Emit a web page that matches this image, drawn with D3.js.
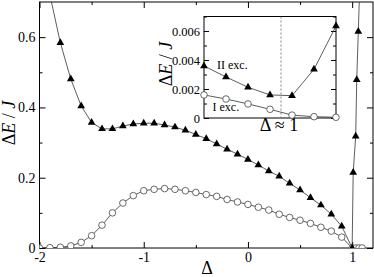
<!DOCTYPE html>
<html>
<head>
<meta charset="utf-8">
<script src="https://cdn.jsdelivr.net/npm/d3@7"></script>
<style>
body { margin: 0; background: #fff; }
svg text { font-family: "Liberation Serif", "Times New Roman", "DejaVu Serif", serif !important; fill: #000; }
</style>
</head>
<body>
<div id="chart"></div>
<script>
// main panel: I exc. (open circles) and II exc. (filled triangles)
var circleDelta = [-2, -1.9, -1.8, -1.7, -1.6, -1.5, -1.4, -1.3, -1.2, -1.1, -1.0, -0.9, -0.8, -0.7, -0.6, -0.5,
    -0.4, -0.3, -0.2, -0.1, 0, 0.1, 0.2, 0.3, 0.4, 0.5, 0.6, 0.7, 0.8, 0.9, 1.0, 1.035, 1.065, 1.095];
var circleGap = [0, 0.001, 0.002, 0.006, 0.016, 0.035, 0.065, 0.100, 0.128, 0.149, 0.163, 0.167, 0.169, 0.167, 0.163, 0.158,
    0.152, 0.147, 0.138, 0.131, 0.124, 0.116, 0.108, 0.096, 0.087, 0.079, 0.070, 0.059, 0.048, 0.031, 0, 0, 0, 0];

var triDelta = [-1.9, -1.8, -1.7, -1.6, -1.5, -1.4, -1.3, -1.2, -1.1, -1.0, -0.9, -0.8, -0.7, -0.6, -0.5, -0.4,
    -0.3, -0.2, -0.1, 0, 0.1, 0.2, 0.3, 0.4, 0.5, 0.6, 0.7, 0.8, 0.9, 1.0, 1.01, 1.034, 1.044, 1.059, 1.075];
var triGap = [0.72, 0.584, 0.481, 0.404, 0.357, 0.339, 0.339, 0.347, 0.353, 0.355, 0.355, 0.350, 0.344, 0.335, 0.323, 0.311,
    0.296, 0.281, 0.267, 0.252, 0.236, 0.219, 0.204, 0.184, 0.165, 0.143, 0.122, 0.096, 0.062, 0, 0.215, 0.318, 0.479, 0.616, 0.76];

var xTicks = [-2, -1, 0, 1];
var xMinor = [-1.5, -0.5, 0.5];
var yTicks = [0, 0.2, 0.4, 0.6];
var yMinor = [0.1, 0.3, 0.5];

// inset: seven points around Delta ~ 1
var insetStep = [1, 2, 3, 4, 5, 6, 7];
var insetII = [0.00359, 0.00283, 0.00212, 0.00159, 0.00154, 0.00336, 0.00634];
var insetI = [0.00159, 0.00131, 0.00097, 0.00060, 0.00020, 0.00009, 0.00005];
var insetYTicks = [0, 0.002, 0.004, 0.006];
var insetYMinor = [0.001, 0.003, 0.005, 0.007];
var insetMark = 4.5;

var serif = "Liberation Serif, Times New Roman, serif";

var svgWidth = 374;
var svgHeight = 277;

var svg = d3.select("#chart")
    .append("svg")
    .attr("width", svgWidth)
    .attr("height", svgHeight)
    .attr("font-family", serif);

var x = d3.scaleLinear().domain([-2, 1.2]).range([39.5, 373]);
var y = d3.scaleLinear().domain([0, 0.7]).range([248, 2]);

var lineColor = "#333";

// frame
svg.append("rect")
    .attr("x", x.range()[0]).attr("y", y.range()[1])
    .attr("width", x.range()[1] - x.range()[0])
    .attr("height", y.range()[0] - y.range()[1])
    .attr("fill", "none").attr("stroke", "#000").attr("stroke-width", 1);

// axes, ticks pointing inward
function dressAxis(g) {
    g.attr("font-family", serif);
    g.select(".domain").remove();
    g.selectAll("line").attr("stroke", "#000");
}
svg.append("g").attr("transform", "translate(0,248)")
    .call(d3.axisBottom(x).tickValues(xTicks).tickSize(-6).tickPadding(4).tickFormat(d => String(d)))
    .call(dressAxis)
    .selectAll("text").style("font-size", "14px");
svg.append("g").attr("transform", "translate(0,248)")
    .call(d3.axisBottom(x).tickValues(xMinor).tickSize(-3).tickFormat(""))
    .call(dressAxis);
svg.append("g").attr("transform", "translate(0,2)")
    .call(d3.axisTop(x).tickValues(xTicks).tickSize(-6).tickFormat(""))
    .call(dressAxis);
svg.append("g").attr("transform", "translate(0,2)")
    .call(d3.axisTop(x).tickValues(xMinor).tickSize(-3).tickFormat(""))
    .call(dressAxis);

svg.append("g").attr("transform", "translate(39.5,0)")
    .call(d3.axisLeft(y).tickValues(yTicks).tickSize(-6).tickPadding(4).tickFormat(function(d) { return d === 0 ? "0" : d3.format(".1f")(d); }))
    .call(dressAxis)
    .selectAll("text").style("font-size", "14px");
svg.append("g").attr("transform", "translate(39.5,0)")
    .call(d3.axisLeft(y).tickValues(yMinor).tickSize(-3).tickFormat(""))
    .call(dressAxis);
svg.append("g").attr("transform", "translate(373,0)")
    .call(d3.axisRight(y).tickValues(yTicks).tickSize(-6).tickFormat(""))
    .call(dressAxis);
svg.append("g").attr("transform", "translate(373,0)")
    .call(d3.axisRight(y).tickValues(yMinor).tickSize(-3).tickFormat(""))
    .call(dressAxis);

// clip the curves to the plot box
svg.append("clipPath").attr("id", "plotClip")
    .append("rect")
    .attr("x", 39.5).attr("y", 2).attr("width", 333.5).attr("height", 246);

var plot = svg.append("g").attr("clip-path", "url(#plotClip)");

var circleData = circleDelta.map(function(d, i) { return [d, circleGap[i]]; });
var triData = triDelta.map(function(d, i) { return [d, triGap[i]]; });

var line = d3.line().x(d => x(d[0])).y(d => y(d[1]));

plot.append("path").datum(circleData)
    .attr("d", line).attr("fill", "none").attr("stroke", lineColor).attr("stroke-width", 0.8);
plot.append("path").datum(triData)
    .attr("d", line).attr("fill", "none").attr("stroke", lineColor).attr("stroke-width", 0.8);

var tri = d3.symbol().type(d3.symbolTriangle).size(26);

plot.selectAll("circle.main")
    .data(circleData)
    .enter()
    .append("circle")
    .attr("class", "main")
    .attr("cx", d => x(d[0]))
    .attr("cy", d => y(d[1]))
    .attr("r", 3.3)
    .attr("fill", "#fff")
    .attr("stroke", "#444")
    .attr("stroke-width", 0.8);

plot.selectAll("path.tri")
    .data(triData)
    .enter()
    .append("path")
    .attr("class", "tri")
    .attr("d", tri)
    .attr("transform", d => `translate(${x(d[0])},${y(d[1])})`)
    .attr("fill", "#000");

// axis titles
var yTitle = svg.append("text")
    .attr("transform", "translate(15,123) rotate(-90)")
    .attr("text-anchor", "middle")
    .style("font-size", "18px");
yTitle.append("tspan").text("Δ");
yTitle.append("tspan").style("font-style", "italic").text("E");
yTitle.append("tspan").text(" / ");
yTitle.append("tspan").style("font-style", "italic").text("J");

svg.append("text")
    .attr("x", 207).attr("y", 274)
    .attr("text-anchor", "middle")
    .style("font-size", "18px")
    .text("Δ");

// ---- inset ----
var ix = d3.scaleLinear().domain([1, 7]).range([204, 336]);
var iy = d3.scaleLinear().domain([0, 0.007]).range([118, 16.5]);

var inset = svg.append("g");
inset.append("rect")
    .attr("x", 204).attr("y", 16.5).attr("width", 132).attr("height", 101.5)
    .attr("fill", "#fff").attr("stroke", "#000").attr("stroke-width", 1);

inset.append("g").attr("transform", "translate(204,0)")
    .call(d3.axisLeft(iy).tickValues(insetYTicks).tickSize(-5).tickPadding(4).tickFormat(function(d) { return d === 0 ? "0" : d3.format(".3f")(d); }))
    .call(dressAxis)
    .selectAll("text").style("font-size", "12.5px");
inset.append("g").attr("transform", "translate(204,0)")
    .call(d3.axisLeft(iy).tickValues(insetYMinor).tickSize(-3).tickFormat(""))
    .call(dressAxis);
inset.append("g").attr("transform", "translate(336,0)")
    .call(d3.axisRight(iy).tickValues(insetYTicks).tickSize(-5).tickFormat(""))
    .call(dressAxis);
inset.append("g").attr("transform", "translate(336,0)")
    .call(d3.axisRight(iy).tickValues(insetYMinor).tickSize(-3).tickFormat(""))
    .call(dressAxis);

inset.append("line")
    .attr("x1", ix(insetMark)).attr("x2", ix(insetMark))
    .attr("y1", iy(0.007)).attr("y2", iy(0))
    .attr("stroke", "#666").attr("stroke-width", 0.8).attr("stroke-dasharray", "2,2");

var insetIIData = insetStep.map(function(d, i) { return [d, insetII[i]]; });
var insetIData = insetStep.map(function(d, i) { return [d, insetI[i]]; });
var iline = d3.line().x(d => ix(d[0])).y(d => iy(d[1]));

inset.append("path").datum(insetIData)
    .attr("d", iline).attr("fill", "none").attr("stroke", lineColor).attr("stroke-width", 0.8);
inset.append("path").datum(insetIIData)
    .attr("d", iline).attr("fill", "none").attr("stroke", lineColor).attr("stroke-width", 0.8);

inset.selectAll("circle.ins")
    .data(insetIData)
    .enter()
    .append("circle")
    .attr("class", "ins")
    .attr("cx", d => ix(d[0]))
    .attr("cy", d => iy(d[1]))
    .attr("r", 3.3)
    .attr("fill", "#fff")
    .attr("stroke", "#444")
    .attr("stroke-width", 0.8);

inset.selectAll("path.itri")
    .data(insetIIData)
    .enter()
    .append("path")
    .attr("class", "itri")
    .attr("d", tri)
    .attr("transform", d => `translate(${ix(d[0])},${iy(d[1])})`)
    .attr("fill", "#000");

inset.append("text").attr("x", 217).attr("y", 69).style("font-size", "12px").text("II exc.");
inset.append("text").attr("x", 212.5).attr("y", 111).style("font-size", "12px").text("I exc.");

var iyTitle = inset.append("text")
    .attr("transform", "translate(172,64) rotate(-90)")
    .attr("text-anchor", "middle")
    .style("font-size", "18px");
iyTitle.append("tspan").text("Δ");
iyTitle.append("tspan").style("font-style", "italic").text("E");
iyTitle.append("tspan").text(" / ");
iyTitle.append("tspan").style("font-style", "italic").text("J");

inset.append("text")
    .attr("x", 279).attr("y", 131)
    .attr("text-anchor", "middle")
    .style("font-size", "18px")
    .text("Δ ≈ 1");
</script>
</body>
</html>
